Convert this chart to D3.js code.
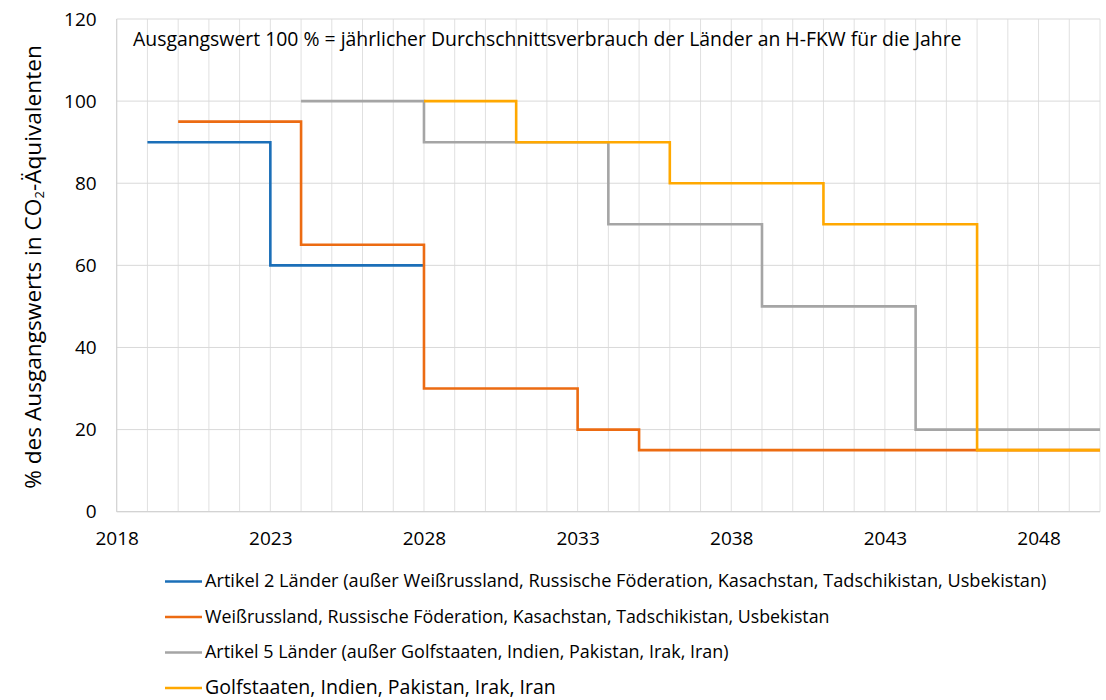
<!DOCTYPE html>
<html>
<head>
<meta charset="utf-8">
<script src="https://cdn.jsdelivr.net/npm/d3@7"></script>
<style>
  body { margin: 0; background: #fff; }
  text { font-family: "Open Sans", "Noto Sans", sans-serif; fill: #000; }
</style>
</head>
<body>
<svg id="svg1" width="1106" height="700"></svg>
<script>
var years = [2018, 2050];
var yTicks = [0, 20, 40, 60, 80, 100, 120];
var xTicks = [2018, 2023, 2028, 2033, 2038, 2043, 2048];

var seriesNames = [
  "Artikel 2 Länder (außer Weißrussland, Russische Föderation, Kasachstan, Tadschikistan, Usbekistan)",
  "Weißrussland, Russische Föderation, Kasachstan, Tadschikistan, Usbekistan",
  "Artikel 5 Länder (außer Golfstaaten, Indien, Pakistan, Irak, Iran)",
  "Golfstaaten, Indien, Pakistan, Irak, Iran"
];
var seriesColors = ["#1b6fb8", "#ec6b12", "#a5a5a5", "#ffa800"];

// [year, value] - step after
var artikel2 = [[2019, 90], [2023, 60], [2028, 60]];
var weissrussland = [[2020, 95], [2024, 65], [2028, 30], [2033, 20], [2035, 15], [2050, 15]];
var artikel5 = [[2024, 100], [2028, 90], [2034, 70], [2039, 50], [2044, 20], [2050, 20]];
var golfstaaten = [[2028, 100], [2031, 90], [2036, 80], [2041, 70], [2046, 15], [2050, 15]];
var allSeries = [artikel2, weissrussland, artikel5, golfstaaten];

var note = "Ausgangswert 100 % = jährlicher Durchschnittsverbrauch der Länder an H-FKW für die Jahre";

var marginLeft = 116.7, marginTop = 19;
var plotW = 983.3, plotH = 492.7;

var svg = d3.select('#svg1').append('g')
    .attr('transform', 'translate(' + marginLeft + ',' + marginTop + ')');

var x = d3.scaleLinear().domain(years).range([0, plotW]);
var y = d3.scaleLinear().domain([0, 120]).range([plotH, 0]);

// vertical gridlines every year
svg.selectAll('.vgrid')
    .data(d3.range(years[0], years[1] + 1))
    .enter().append('line')
    .attr('x1', function(d) { return x(d); })
    .attr('x2', function(d) { return x(d); })
    .attr('y1', 0).attr('y2', plotH)
    .attr('stroke', '#e0e0e0').attr('stroke-width', 1);

svg.selectAll('.hgrid')
    .data(yTicks)
    .enter().append('line')
    .attr('x1', 0).attr('x2', plotW)
    .attr('y1', function(d) { return y(d); })
    .attr('y2', function(d) { return y(d); })
    .attr('stroke', '#d9d9d9').attr('stroke-width', 1);

// axes
svg.append('line').attr('x1', 0).attr('x2', 0).attr('y1', 0).attr('y2', plotH)
    .attr('stroke', '#d0d0d0').attr('stroke-width', 1);
svg.append('line').attr('x1', 0).attr('x2', plotW).attr('y1', plotH).attr('y2', plotH)
    .attr('stroke', '#d0d0d0').attr('stroke-width', 1);

var yAxis = svg.append('g')
    .call(d3.axisLeft(y).tickValues(yTicks).tickSize(0).tickPadding(20));
yAxis.select('.domain').remove();
yAxis.selectAll('text').style('font-size', '19px').style('font-family', '"Open Sans", sans-serif').attr('fill', '#000');

var xAxis = svg.append('g')
    .attr('transform', 'translate(0,' + plotH + ')')
    .call(d3.axisBottom(x).tickValues(xTicks).tickFormat(d3.format('d')).tickSize(0).tickPadding(20));
xAxis.select('.domain').remove();
xAxis.selectAll('text').style('font-size', '19px').style('font-family', '"Open Sans", sans-serif').attr('fill', '#000');

// step lines
var line = d3.line()
    .x(function(d) { return x(d[0]); })
    .y(function(d) { return y(d[1]); })
    .curve(d3.curveStepAfter);

svg.selectAll('.series')
    .data(allSeries)
    .enter().append('path')
    .attr('d', line)
    .attr('fill', 'none')
    .attr('stroke', function(d, i) { return seriesColors[i]; })
    .attr('stroke-width', 2.6);

function fitText(sel, target) {
  var w = sel.node().getComputedTextLength();
  var fs = parseFloat(sel.style('font-size'));
  sel.style('font-size', (fs * target / w) + 'px');
}

// note
var noteText = d3.select('#svg1').append('text')
    .attr('x', 133).attr('y', 46)
    .style('font-size', '18px')
    .text(note);
fitText(noteText, 829);

// y title
var yTitle = d3.select('#svg1').append('text')
    .attr('transform', 'translate(41,267) rotate(-90)')
    .attr('text-anchor', 'middle')
    .style('font-size', '20px');
yTitle.append('tspan').text('% des Ausgangswerts in CO');
yTitle.append('tspan').attr('baseline-shift', '-25%').style('font-size', '13px').text('2');
yTitle.append('tspan').text('-Äquivalenten');
fitText(yTitle, 445);

// legend
var legendWidths = [842, 625, 524, 351];
var legend = d3.select('#svg1').selectAll('.legend')
    .data(seriesNames)
    .enter().append('g')
    .attr('transform', function(d, i) { return 'translate(165,' + (581.5 + i * 35.5) + ')'; });

legend.append('line')
    .attr('x1', 0).attr('x2', 37)
    .attr('stroke', function(d, i) { return seriesColors[i]; })
    .attr('stroke-width', 2.6);

legend.append('text')
    .attr('x', 40).attr('y', 5.5)
    .style('font-size', '16px')
    .text(function(d) { return d; })
    .each(function(d, i) { fitText(d3.select(this), legendWidths[i]); });
</script>
</body>
</html>
